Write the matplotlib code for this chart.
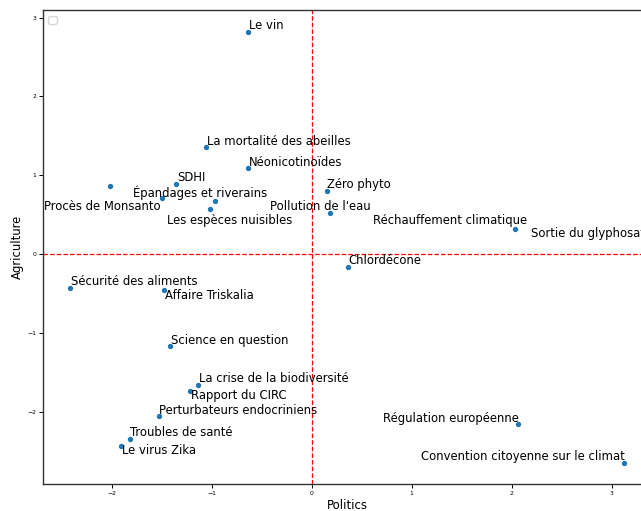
import matplotlib
matplotlib.use('Agg')
import matplotlib.pyplot as plt

# Données : coordonnées des sujets (Politics, Agriculture)
labels = ['Le vin', 'La mortalité des abeilles', 'Néonicotinoïdes', 'SDHI',
          'Procès de Monsanto', 'Épandages et riverains', "Pollution de l'eau",
          'Les espèces nuisibles', 'Zéro phyto', 'Réchauffement climatique',
          'Sortie du glyphosate', 'Chlordécone', 'Sécurité des aliments',
          'Affaire Triskalia', 'Science en question', 'La crise de la biodiversité',
          'Rapport du CIRC', 'Perturbateurs endocriniens', 'Troubles de santé',
          'Le virus Zika', 'Régulation européenne',
          'Convention citoyenne sur le climat']
politics = [-0.637, -1.053, -0.633, -1.353, -2.02, -1.497, -0.963, -1.017,
            0.15, 0.18, 2.037, 0.363, -2.413, -1.477, -1.417, -1.133,
            -1.213, -1.53, -1.82, -1.907, 2.067, 3.127]
agriculture = [2.823, 1.358, 1.092, 0.895, 0.865, 0.718, 0.680, 0.573,
               0.801, 0.523, 0.320, -0.161, -0.427, -0.456, -1.165, -1.654,
               -1.730, -2.054, -2.346, -2.427, -2.156, -2.642]

# positions des étiquettes (après ajustement), en coordonnées des données
label_x = [-0.63, -1.05, -0.627, -1.343, -2.68, -1.79, -0.413, -1.45,
           0.157, 0.613, 2.193, 0.37, -2.407, -1.47, -1.41, -1.127,
           -1.207, -1.523, -1.813, -1.897, 0.713, 1.097]
label_y = [2.899, 1.434, 1.168, 0.971, 0.599, 0.781, 0.608, 0.434,
           0.886, 0.430, 0.262, -0.085, -0.351, -0.528, -1.089, -1.573,
           -1.793, -1.975, -2.262, -2.490, -2.080, -2.566]

fig = plt.figure(figsize=(6.41, 5.11), dpi=100)
ax = fig.add_axes([0.0666, 0.0523, 0.9505, 0.9282])

ax.scatter(politics, agriculture, s=8, color='#1f77b4', zorder=3)
for lab, tx, ty in zip(labels, label_x, label_y):
    ax.text(tx, ty, lab, fontsize=8.4, ha='left', va='center', zorder=4)

ax.axhline(0, color='red', linestyle='--', linewidth=0.9)
ax.axvline(0, color='red', linestyle='--', linewidth=0.9)

ax.set_xlabel('Politics', fontsize=8.4, labelpad=2)
ax.set_ylabel('Agriculture', fontsize=8.4, labelpad=2)
ax.tick_params(labelsize=4.4, length=2.8, width=0.7, pad=2)
for sp in ax.spines.values():
    sp.set_color('#333333')
    sp.set_linewidth(1.0)

ax.legend(handles=[], loc='upper left', fontsize=8)

plt.savefig('out.png', dpi=100)
